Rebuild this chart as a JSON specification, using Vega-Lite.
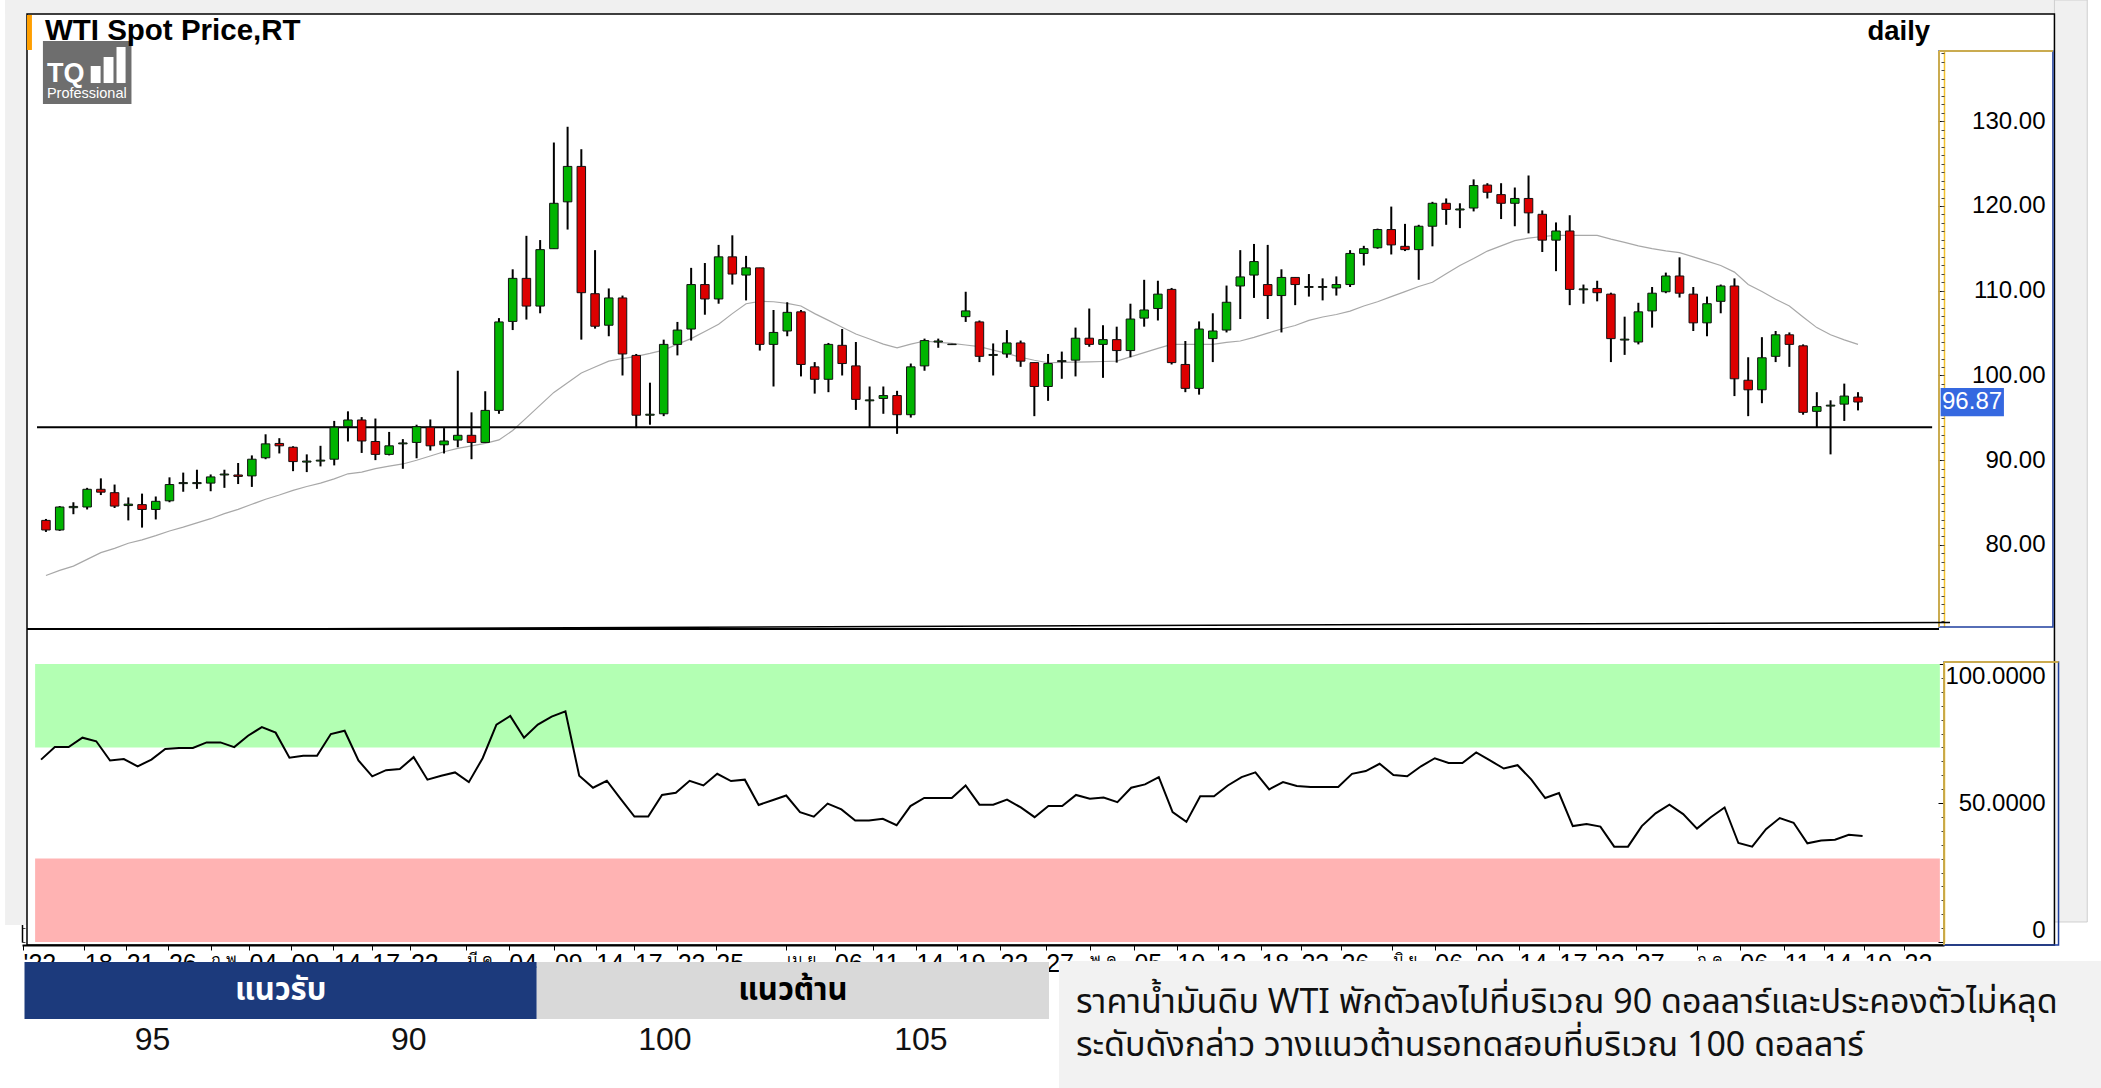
{
"$schema":"https://vega.github.io/schema/vega-lite/v6.json",
"width":2101,"height":1088,"autosize":{"type":"none"},"padding":0,"background":"white",
"config":{"view":{"stroke":null},"axis":{"grid":false}},
"datasets":{
"ohlc":[
{"i":0,"o":82.9,"h":83.07,"l":81.54,"c":81.77,"ma":76.4,"rsi":65.6},
{"i":1,"o":81.77,"h":84.59,"l":81.66,"c":84.48,"ma":77.0,"rsi":70.1},
{"i":2,"o":84.4,"h":85.04,"l":83.63,"c":84.55,"ma":77.5,"rsi":70.1},
{"i":3,"o":84.48,"h":86.74,"l":84.19,"c":86.57,"ma":78.3,"rsi":73.5},
{"i":4,"o":86.57,"h":87.86,"l":85.89,"c":86.23,"ma":79.1,"rsi":72.2},
{"i":5,"o":86.17,"h":87.13,"l":84.36,"c":84.59,"ma":79.6,"rsi":65.3},
{"i":6,"o":84.65,"h":85.61,"l":82.9,"c":84.82,"ma":80.2,"rsi":65.8},
{"i":7,"o":84.76,"h":86.06,"l":82.05,"c":84.19,"ma":80.6,"rsi":63.2},
{"i":8,"o":84.19,"h":85.72,"l":83.01,"c":85.15,"ma":81.1,"rsi":65.6},
{"i":9,"o":85.21,"h":87.98,"l":85.04,"c":87.13,"ma":81.65,"rsi":69.4},
{"i":10,"o":87.24,"h":88.54,"l":86.28,"c":87.36,"ma":82.1,"rsi":69.8},
{"i":11,"o":87.24,"h":88.88,"l":86.62,"c":87.36,"ma":82.6,"rsi":69.8},
{"i":12,"o":87.3,"h":88.32,"l":86.34,"c":88.03,"ma":83.1,"rsi":71.8},
{"i":13,"o":88.26,"h":88.88,"l":86.74,"c":88.37,"ma":83.7,"rsi":71.8},
{"i":14,"o":88.26,"h":89.67,"l":87.19,"c":88.09,"ma":84.2,"rsi":70.1},
{"i":15,"o":88.15,"h":90.57,"l":86.85,"c":90.12,"ma":84.8,"rsi":74.2},
{"i":16,"o":90.29,"h":93.06,"l":90.12,"c":91.93,"ma":85.4,"rsi":77.3},
{"i":17,"o":91.98,"h":92.6,"l":90.8,"c":91.7,"ma":85.9,"rsi":75.3},
{"i":18,"o":91.53,"h":91.65,"l":88.71,"c":89.84,"ma":86.45,"rsi":66.3},
{"i":19,"o":89.78,"h":90.69,"l":88.6,"c":89.9,"ma":86.9,"rsi":67.0},
{"i":20,"o":89.9,"h":91.7,"l":89.27,"c":90.01,"ma":87.3,"rsi":67.0},
{"i":21,"o":90.12,"h":94.64,"l":89.39,"c":93.9,"ma":87.8,"rsi":74.8},
{"i":22,"o":93.96,"h":95.77,"l":92.21,"c":94.75,"ma":88.4,"rsi":76.0},
{"i":23,"o":94.75,"h":95.09,"l":90.86,"c":92.27,"ma":88.6,"rsi":65.3},
{"i":24,"o":92.21,"h":94.92,"l":90.01,"c":90.69,"ma":89.0,"rsi":59.6},
{"i":25,"o":90.69,"h":93.34,"l":90.57,"c":91.7,"ma":89.3,"rsi":61.8},
{"i":26,"o":91.93,"h":92.49,"l":88.99,"c":92.04,"ma":89.56,"rsi":62.2},
{"i":27,"o":92.1,"h":94.19,"l":90.23,"c":93.96,"ma":90.0,"rsi":66.5},
{"i":28,"o":93.9,"h":94.81,"l":91.14,"c":91.7,"ma":90.5,"rsi":58.4},
{"i":29,"o":91.82,"h":93.79,"l":90.8,"c":92.27,"ma":91.0,"rsi":59.8},
{"i":30,"o":92.38,"h":100.56,"l":91.53,"c":92.94,"ma":91.4,"rsi":61.0},
{"i":31,"o":92.94,"h":95.65,"l":90.12,"c":92.1,"ma":91.7,"rsi":57.5},
{"i":32,"o":92.1,"h":98.14,"l":92.1,"c":95.88,"ma":91.98,"rsi":66.1},
{"i":33,"o":95.88,"h":106.77,"l":95.48,"c":106.32,"ma":92.4,"rsi":78.2},
{"i":34,"o":106.38,"h":112.53,"l":105.36,"c":111.46,"ma":93.5,"rsi":81.3},
{"i":35,"o":111.46,"h":116.48,"l":106.6,"c":108.19,"ma":95.0,"rsi":73.5},
{"i":36,"o":108.19,"h":115.98,"l":107.34,"c":114.85,"ma":96.5,"rsi":78.2},
{"i":37,"o":114.96,"h":127.49,"l":114.96,"c":120.32,"ma":98.0,"rsi":81.1},
{"i":38,"o":120.49,"h":129.35,"l":117.22,"c":124.67,"ma":99.15,"rsi":83.0},
{"i":39,"o":124.67,"h":126.7,"l":104.23,"c":109.77,"ma":100.3,"rsi":59.8},
{"i":40,"o":109.65,"h":114.79,"l":105.53,"c":105.81,"ma":101.0,"rsi":55.5},
{"i":41,"o":105.93,"h":110.27,"l":104.63,"c":109.15,"ma":101.7,"rsi":58.0},
{"i":42,"o":109.15,"h":109.43,"l":100.0,"c":102.54,"ma":102.0,"rsi":51.5},
{"i":43,"o":102.37,"h":102.54,"l":93.79,"c":95.31,"ma":102.26,"rsi":45.1},
{"i":44,"o":95.31,"h":99.15,"l":94.19,"c":95.43,"ma":102.6,"rsi":45.1},
{"i":45,"o":95.48,"h":104.23,"l":95.2,"c":103.67,"ma":103.0,"rsi":52.9},
{"i":46,"o":103.67,"h":106.32,"l":102.37,"c":105.36,"ma":103.7,"rsi":53.7},
{"i":47,"o":105.48,"h":112.7,"l":104.12,"c":110.73,"ma":104.35,"rsi":58.0},
{"i":48,"o":110.73,"h":113.27,"l":107.17,"c":109.03,"ma":105.2,"rsi":56.3},
{"i":49,"o":109.03,"h":115.41,"l":108.47,"c":114.0,"ma":106.04,"rsi":60.5},
{"i":50,"o":114.0,"h":116.54,"l":110.73,"c":111.97,"ma":107.3,"rsi":57.9},
{"i":51,"o":111.85,"h":114.11,"l":108.86,"c":112.7,"ma":108.47,"rsi":58.4},
{"i":52,"o":112.7,"h":112.7,"l":102.94,"c":103.67,"ma":108.75,"rsi":49.3},
{"i":53,"o":103.67,"h":107.73,"l":98.7,"c":105.08,"ma":108.7,"rsi":51.0},
{"i":54,"o":105.25,"h":108.64,"l":104.63,"c":107.45,"ma":108.5,"rsi":52.7},
{"i":55,"o":107.51,"h":107.73,"l":99.89,"c":101.3,"ma":108.2,"rsi":46.7},
{"i":56,"o":101.02,"h":101.58,"l":97.86,"c":99.55,"ma":107.3,"rsi":45.1},
{"i":57,"o":99.55,"h":103.84,"l":98.03,"c":103.67,"ma":106.5,"rsi":49.8},
{"i":58,"o":103.56,"h":105.48,"l":100.0,"c":101.41,"ma":105.7,"rsi":47.7},
{"i":59,"o":101.13,"h":103.95,"l":95.94,"c":97.18,"ma":104.9,"rsi":43.7},
{"i":60,"o":97.01,"h":98.7,"l":93.9,"c":97.12,"ma":104.3,"rsi":43.7},
{"i":61,"o":97.29,"h":98.7,"l":95.48,"c":97.63,"ma":103.7,"rsi":44.3},
{"i":62,"o":97.63,"h":98.19,"l":93.11,"c":95.37,"ma":103.27,"rsi":42.0},
{"i":63,"o":95.37,"h":101.41,"l":95.03,"c":101.02,"ma":103.7,"rsi":48.9},
{"i":64,"o":101.13,"h":104.35,"l":100.56,"c":104.12,"ma":104.07,"rsi":51.8},
{"i":65,"o":103.95,"h":104.35,"l":103.27,"c":104.07,"ma":103.9,"rsi":51.8},
{"i":66,"o":103.64,"h":103.73,"l":103.61,"c":103.7,"ma":103.78,"rsi":51.8},
{"i":67,"o":106.94,"h":109.88,"l":106.32,"c":107.62,"ma":103.6,"rsi":56.3},
{"i":68,"o":106.32,"h":106.49,"l":101.58,"c":102.26,"ma":103.4,"rsi":49.4},
{"i":69,"o":102.37,"h":103.78,"l":100.0,"c":102.48,"ma":103.0,"rsi":49.4},
{"i":70,"o":102.54,"h":105.36,"l":102.09,"c":103.84,"ma":102.6,"rsi":51.2},
{"i":71,"o":103.84,"h":104.12,"l":101.02,"c":101.69,"ma":102.15,"rsi":48.4},
{"i":72,"o":101.52,"h":101.52,"l":95.2,"c":98.7,"ma":101.8,"rsi":44.9},
{"i":73,"o":98.7,"h":102.54,"l":97.01,"c":101.41,"ma":101.5,"rsi":48.9},
{"i":74,"o":101.64,"h":102.82,"l":99.61,"c":101.75,"ma":101.55,"rsi":48.9},
{"i":75,"o":101.81,"h":105.65,"l":99.89,"c":104.4,"ma":101.58,"rsi":52.9},
{"i":76,"o":104.4,"h":107.9,"l":103.39,"c":103.67,"ma":101.6,"rsi":51.5},
{"i":77,"o":103.67,"h":105.93,"l":99.72,"c":104.23,"ma":101.65,"rsi":52.0},
{"i":78,"o":104.23,"h":105.76,"l":101.52,"c":102.94,"ma":101.7,"rsi":50.3},
{"i":79,"o":102.94,"h":108.47,"l":102.15,"c":106.66,"ma":102.2,"rsi":55.5},
{"i":80,"o":106.77,"h":111.29,"l":105.76,"c":107.73,"ma":102.7,"rsi":56.7},
{"i":81,"o":107.9,"h":111.18,"l":106.49,"c":109.6,"ma":103.2,"rsi":59.3},
{"i":82,"o":110.16,"h":110.33,"l":101.3,"c":101.52,"ma":103.67,"rsi":46.7},
{"i":83,"o":101.3,"h":104.07,"l":98.03,"c":98.48,"ma":103.67,"rsi":43.2},
{"i":84,"o":98.48,"h":106.38,"l":97.74,"c":105.48,"ma":103.67,"rsi":52.4},
{"i":85,"o":104.35,"h":107.34,"l":101.58,"c":105.25,"ma":103.67,"rsi":52.4},
{"i":86,"o":105.36,"h":110.61,"l":105.08,"c":108.64,"ma":103.9,"rsi":56.3},
{"i":87,"o":110.56,"h":114.79,"l":106.66,"c":111.63,"ma":104.07,"rsi":59.3},
{"i":88,"o":111.85,"h":115.52,"l":109.15,"c":113.44,"ma":104.5,"rsi":61.0},
{"i":89,"o":110.73,"h":115.41,"l":106.66,"c":109.43,"ma":105.0,"rsi":54.9},
{"i":90,"o":109.43,"h":112.53,"l":105.08,"c":111.57,"ma":105.48,"rsi":57.5},
{"i":91,"o":111.57,"h":111.57,"l":108.3,"c":110.73,"ma":105.9,"rsi":56.1},
{"i":92,"o":110.39,"h":111.97,"l":109.31,"c":110.5,"ma":106.5,"rsi":55.8},
{"i":93,"o":110.39,"h":111.46,"l":108.86,"c":110.5,"ma":106.9,"rsi":55.8},
{"i":94,"o":110.33,"h":111.69,"l":109.43,"c":110.73,"ma":107.2,"rsi":55.8},
{"i":95,"o":110.73,"h":114.79,"l":110.44,"c":114.4,"ma":107.6,"rsi":60.5},
{"i":96,"o":114.4,"h":115.3,"l":112.98,"c":114.96,"ma":108.2,"rsi":61.5},
{"i":97,"o":115.07,"h":117.33,"l":114.96,"c":117.22,"ma":108.7,"rsi":64.1},
{"i":98,"o":117.22,"h":119.93,"l":114.28,"c":115.41,"ma":109.3,"rsi":60.1},
{"i":99,"o":115.24,"h":117.89,"l":114.68,"c":114.85,"ma":109.9,"rsi":59.6},
{"i":100,"o":114.85,"h":117.78,"l":111.29,"c":117.61,"ma":110.5,"rsi":63.2},
{"i":101,"o":117.61,"h":120.49,"l":115.24,"c":120.32,"ma":111.0,"rsi":66.1},
{"i":102,"o":120.32,"h":120.89,"l":117.78,"c":119.59,"ma":112.0,"rsi":64.4},
{"i":103,"o":119.53,"h":120.32,"l":117.39,"c":119.65,"ma":112.98,"rsi":64.4},
{"i":104,"o":119.76,"h":123.14,"l":119.36,"c":122.41,"ma":113.8,"rsi":68.2},
{"i":105,"o":122.47,"h":122.69,"l":120.89,"c":121.62,"ma":114.68,"rsi":65.3},
{"i":106,"o":121.34,"h":122.69,"l":118.46,"c":120.32,"ma":115.3,"rsi":62.4},
{"i":107,"o":120.32,"h":122.18,"l":117.61,"c":120.89,"ma":115.92,"rsi":63.6},
{"i":108,"o":120.89,"h":123.6,"l":116.77,"c":119.19,"ma":116.2,"rsi":58.4},
{"i":109,"o":119.02,"h":119.48,"l":114.57,"c":115.97,"ma":116.4,"rsi":51.8},
{"i":110,"o":115.97,"h":118.06,"l":112.31,"c":117.05,"ma":116.54,"rsi":53.6},
{"i":111,"o":117.05,"h":118.91,"l":108.3,"c":110.16,"ma":116.54,"rsi":41.7},
{"i":112,"o":110.11,"h":110.73,"l":108.47,"c":110.22,"ma":116.54,"rsi":42.4},
{"i":113,"o":110.27,"h":111.18,"l":108.75,"c":109.77,"ma":116.54,"rsi":41.5},
{"i":114,"o":109.6,"h":109.77,"l":101.58,"c":104.35,"ma":116.1,"rsi":34.3},
{"i":115,"o":104.18,"h":106.94,"l":102.43,"c":104.29,"ma":115.7,"rsi":34.3},
{"i":116,"o":103.95,"h":108.58,"l":103.67,"c":107.51,"ma":115.3,"rsi":41.7},
{"i":117,"o":107.62,"h":110.44,"l":105.65,"c":109.71,"ma":114.96,"rsi":46.3},
{"i":118,"o":109.88,"h":112.14,"l":109.71,"c":111.74,"ma":114.7,"rsi":49.4},
{"i":119,"o":111.74,"h":113.94,"l":109.2,"c":109.71,"ma":114.5,"rsi":46.0},
{"i":120,"o":109.6,"h":110.44,"l":105.25,"c":106.21,"ma":114.0,"rsi":40.8},
{"i":121,"o":106.21,"h":109.31,"l":104.63,"c":108.47,"ma":113.5,"rsi":44.9},
{"i":122,"o":108.75,"h":110.73,"l":107.34,"c":110.56,"ma":112.98,"rsi":48.4},
{"i":123,"o":110.56,"h":111.46,"l":97.57,"c":99.61,"ma":112.2,"rsi":35.6},
{"i":124,"o":99.44,"h":102.15,"l":95.2,"c":98.31,"ma":110.73,"rsi":34.3},
{"i":125,"o":98.31,"h":104.52,"l":96.73,"c":102.09,"ma":109.9,"rsi":40.6},
{"i":126,"o":102.26,"h":105.25,"l":101.58,"c":104.8,"ma":109.0,"rsi":44.6},
{"i":127,"o":104.8,"h":105.08,"l":101.02,"c":103.67,"ma":108.2,"rsi":42.9},
{"i":128,"o":103.5,"h":103.67,"l":95.37,"c":95.65,"ma":106.9,"rsi":35.5},
{"i":129,"o":95.77,"h":98.03,"l":93.9,"c":96.33,"ma":105.65,"rsi":36.5},
{"i":130,"o":96.39,"h":97.07,"l":90.69,"c":96.5,"ma":104.8,"rsi":36.8},
{"i":131,"o":96.62,"h":99.04,"l":94.64,"c":97.57,"ma":104.2,"rsi":38.6},
{"i":132,"o":97.45,"h":98.03,"l":95.88,"c":96.87,"ma":103.67,"rsi":38.1}
],
"thead":[{"a":0,"b":2,"m":1,"t":"แนวรับ","k":"sup"},{"a":2,"b":4,"m":3,"t":"แนวต้าน","k":"res"}],
"tval":[{"m":0.5,"t":"95"},{"m":1.5,"t":"90"},{"m":2.5,"t":"100"},{"m":3.5,"t":"105"}],
"note":[{"ln":"l1","t":"ราคาน้ำมันดิบ   WTI พักตัวลงไปที่บริเวณ 90 ดอลลาร์และประคองตัวไม่หลุด"},{"ln":"l2","t":"ระดับดังกล่าว วางแนวต้านรอทดสอบที่บริเวณ 100 ดอลลาร์"}]
},
"resolve":{"scale":{"x":"independent","y":"independent"},"axis":{"x":"independent","y":"independent"}},
"layer":[
{"layer":[
{"data":{"values":[{}]},"mark":{"type":"rect","fill":"#f0f0f0"},"encoding":{"x":{"datum":-2.974,"scale":{"domain":[-1.38,137.9],"range":[22,1944],"nice":false,"zero":false},"axis":null},"x2":{"datum":148.7},"y":{"datum":142.65,"scale":{"domain":[70.32,138.29],"range":[627,51],"nice":false,"zero":false},"axis":null},"y2":{"datum":144.31}}},
{"data":{"values":[{}]},"mark":{"type":"rect","fill":"#f0f0f0"},"encoding":{"x":{"datum":-2.974,"scale":{"domain":[-1.38,137.9],"range":[22,1944],"nice":false,"zero":false},"axis":null},"x2":{"datum":-1.38},"y":{"datum":35.16,"scale":{"domain":[70.32,138.29],"range":[627,51],"nice":false,"zero":false},"axis":null},"y2":{"datum":144.31}}},
{"data":{"values":[{}]},"mark":{"type":"rect","fill":"#f0f0f0","stroke":"#cfcfcf","strokeWidth":1},"encoding":{"x":{"datum":146.31,"scale":{"domain":[-1.38,137.9],"range":[22,1944],"nice":false,"zero":false},"axis":null},"x2":{"datum":148.7},"y":{"datum":35.51,"scale":{"domain":[70.32,138.29],"range":[627,51],"nice":false,"zero":false},"axis":null},"y2":{"datum":144.31}}},
{"data":{"values":[{}]},"mark":{"type":"rect","fillOpacity":0,"stroke":"black","strokeWidth":1.5},"encoding":{"x":{"datum":-1.38,"scale":{"domain":[-1.38,137.9],"range":[22,1944],"nice":false,"zero":false},"axis":null},"x2":{"datum":146.31},"y":{"datum":32.8,"scale":{"domain":[70.32,138.29],"range":[627,51],"nice":false,"zero":false},"axis":null},"y2":{"datum":142.65}}},
{"data":{"values":[{}]},"mark":{"type":"rect","fill":"#ff9f00"},"encoding":{"x":{"datum":-1.38,"scale":{"domain":[-1.38,137.9],"range":[22,1944],"nice":false,"zero":false},"axis":null},"x2":{"datum":-1.02},"y":{"datum":138.41,"scale":{"domain":[70.32,138.29],"range":[627,51],"nice":false,"zero":false},"axis":null},"y2":{"datum":142.54}}},
{"data":{"values":[{}]},"mark":{"type":"rect","fill":"#6e6e6e"},"encoding":{"x":{"datum":-0.22,"scale":{"domain":[-1.38,137.9],"range":[22,1944],"nice":false,"zero":false},"axis":null},"x2":{"datum":6.23},"y":{"datum":132.04,"scale":{"domain":[70.32,138.29],"range":[627,51],"nice":false,"zero":false},"axis":null},"y2":{"datum":139.47}}},
{"data":{"values":[{}]},"mark":{"type":"rect","fill":"white"},"encoding":{"x":{"datum":3.26,"scale":{"domain":[-1.38,137.9],"range":[22,1944],"nice":false,"zero":false},"axis":null},"x2":{"datum":3.98},"y":{"datum":134.51,"scale":{"domain":[70.32,138.29],"range":[627,51],"nice":false,"zero":false},"axis":null},"y2":{"datum":136.52}}},
{"data":{"values":[{}]},"mark":{"type":"rect","fill":"white"},"encoding":{"x":{"datum":4.2,"scale":{"domain":[-1.38,137.9],"range":[22,1944],"nice":false,"zero":false},"axis":null},"x2":{"datum":4.92},"y":{"datum":134.51,"scale":{"domain":[70.32,138.29],"range":[627,51],"nice":false,"zero":false},"axis":null},"y2":{"datum":137.58}}},
{"data":{"values":[{}]},"mark":{"type":"rect","fill":"white"},"encoding":{"x":{"datum":5.14,"scale":{"domain":[-1.38,137.9],"range":[22,1944],"nice":false,"zero":false},"axis":null},"x2":{"datum":5.8},"y":{"datum":134.51,"scale":{"domain":[70.32,138.29],"range":[627,51],"nice":false,"zero":false},"axis":null},"y2":{"datum":138.76}}},
{"data":{"values":[{}]},"mark":{"type":"text","text":"TQ","align":"left","baseline":"middle","fontSize":27,"fontWeight":"bold","font":"Liberation Sans","color":"white"},"encoding":{"x":{"datum":0.07,"scale":{"domain":[-1.38,137.9],"range":[22,1944],"nice":false,"zero":false},"axis":null},"y":{"datum":135.58,"scale":{"domain":[70.32,138.29],"range":[627,51],"nice":false,"zero":false},"axis":null}}},
{"data":{"values":[{}]},"mark":{"type":"text","text":"Professional","align":"left","baseline":"middle","fontSize":14.5,"font":"Liberation Sans","color":"white"},"encoding":{"x":{"datum":0.07,"scale":{"domain":[-1.38,137.9],"range":[22,1944],"nice":false,"zero":false},"axis":null},"y":{"datum":133.22,"scale":{"domain":[70.32,138.29],"range":[627,51],"nice":false,"zero":false},"axis":null}}},
{"data":{"values":[{}]},"mark":{"type":"text","text":"WTI Spot Price,RT","align":"left","baseline":"alphabetic","fontSize":29.5,"fontWeight":"bold","font":"Liberation Sans","color":"black"},"encoding":{"x":{"datum":-0.076,"scale":{"domain":[-1.38,137.9],"range":[22,1944],"nice":false,"zero":false},"axis":null},"y":{"datum":139.59,"scale":{"domain":[70.32,138.29],"range":[627,51],"nice":false,"zero":false},"axis":null}}},
{"data":{"values":[{}]},"mark":{"type":"text","text":"daily","align":"right","baseline":"alphabetic","fontSize":27.5,"fontWeight":"bold","font":"Liberation Sans","color":"black"},"encoding":{"x":{"datum":137.25,"scale":{"domain":[-1.38,137.9],"range":[22,1944],"nice":false,"zero":false},"axis":null},"y":{"datum":139.59,"scale":{"domain":[70.32,138.29],"range":[627,51],"nice":false,"zero":false},"axis":null}}},
{"data":{"values":[{}]},"mark":{"type":"rect","fillOpacity":0,"stroke":"#1f3f9f","strokeWidth":1.5},"encoding":{"x":{"datum":137.9,"scale":{"domain":[-1.38,137.9],"range":[22,1944],"nice":false,"zero":false},"axis":null},"x2":{"datum":146.2},"y":{"datum":70.32,"scale":{"domain":[70.32,138.29],"range":[627,51],"nice":false,"zero":false},"axis":null},"y2":{"datum":138.29}}},
{"data":{"values":[{}]},"mark":{"type":"rule","color":"#f2c12e","strokeWidth":1.5},"encoding":{"x":{"datum":137.9,"scale":{"domain":[-1.38,137.9],"range":[22,1944],"nice":false,"zero":false},"axis":null},"x2":{"datum":146.2},"y":{"datum":138.29,"scale":{"domain":[70.32,138.29],"range":[627,51],"nice":false,"zero":false},"axis":null}}},
{"data":{"values":[{}]},"mark":{"type":"rule","color":"#f2c12e","strokeWidth":1.5},"encoding":{"x":{"datum":137.9,"scale":{"domain":[-1.38,137.9],"range":[22,1944],"nice":false,"zero":false},"axis":null},"y":{"datum":70.32,"scale":{"domain":[70.32,138.29],"range":[627,51],"nice":false,"zero":false},"axis":null},"y2":{"datum":138.29}}},
{"data":{"name":"ohlc"},"mark":{"type":"line","color":"#a8a8a8","strokeWidth":1.2},"encoding":{"x":{"field":"i","type":"quantitative","scale":{"domain":[-1.38,137.9],"range":[22,1944],"nice":false,"zero":false},"axis":null},"y":{"field":"ma","type":"quantitative","scale":{"domain":[70.32,138.29],"range":[627,51],"nice":false,"zero":false},"axis":null}}},
{"data":{"values":[{}]},"mark":{"type":"rule","color":"black","strokeWidth":2},"encoding":{"x":{"datum":-1.38,"scale":{"domain":[-1.38,137.9],"range":[22,1944],"nice":false,"zero":false},"axis":null},"x2":{"datum":137.9},"y":{"datum":70.08,"scale":{"domain":[70.32,138.29],"range":[627,51],"nice":false,"zero":false},"axis":null}}},
{"data":{"values":[{}]},"mark":{"type":"rule","color":"black","strokeWidth":1.5},"encoding":{"x":{"datum":15.4,"scale":{"domain":[-1.38,137.9],"range":[22,1944],"nice":false,"zero":false},"axis":null},"x2":{"datum":138.7},"y":{"datum":70.08,"scale":{"domain":[70.32,138.29],"range":[627,51],"nice":false,"zero":false},"axis":null},"y2":{"datum":70.86}}},
{"data":{"values":[{}]},"mark":{"type":"rule","color":"black","strokeWidth":2},"encoding":{"x":{"datum":-0.65,"scale":{"domain":[-1.38,137.9],"range":[22,1944],"nice":false,"zero":false},"axis":null},"x2":{"datum":137.4},"y":{"datum":93.9,"scale":{"domain":[70.32,138.29],"range":[627,51],"nice":false,"zero":false},"axis":null}}},
{"data":{"name":"ohlc"},"mark":{"type":"rule","color":"black","strokeWidth":2},"encoding":{"x":{"field":"i","type":"quantitative","scale":{"domain":[-1.38,137.9],"range":[22,1944],"nice":false,"zero":false},"axis":null},"y":{"field":"l","type":"quantitative","scale":{"domain":[70.32,138.29],"range":[627,51],"nice":false,"zero":false},"axis":null},"y2":{"field":"h"}}},
{"data":{"name":"ohlc"},"mark":{"type":"bar","width":8.5,"stroke":"#111111","strokeWidth":1},"encoding":{"x":{"field":"i","type":"quantitative","scale":{"domain":[-1.38,137.9],"range":[22,1944],"nice":false,"zero":false},"axis":null},"y":{"field":"o","type":"quantitative","scale":{"domain":[70.32,138.29],"range":[627,51],"nice":false,"zero":false},"axis":null},"y2":{"field":"c"},"color":{"condition":{"test":"datum.c >= datum.o","value":"#00b400"},"value":"#dd0000"}}},
{"data":{"values":[{}]},"mark":{"type":"rect","fill":"#3568e0"},"encoding":{"x":{"datum":138.02,"scale":{"domain":[-1.38,137.9],"range":[22,1944],"nice":false,"zero":false},"axis":null},"x2":{"datum":142.63},"y":{"datum":95.2,"scale":{"domain":[70.32,138.29],"range":[627,51],"nice":false,"zero":false},"axis":null},"y2":{"datum":98.52}}},
{"data":{"name":"ohlc"},"transform":[{"filter":"datum.i == 132"}],"mark":{"type":"text","align":"left","baseline":"middle","fontSize":24,"font":"Liberation Sans","color":"white"},"encoding":{"x":{"datum":138.12,"scale":{"domain":[-1.38,137.9],"range":[22,1944],"nice":false,"zero":false},"axis":null},"y":{"field":"c","type":"quantitative","scale":{"domain":[70.32,138.29],"range":[627,51],"nice":false,"zero":false},"axis":null},"text":{"field":"c","type":"quantitative","format":".2f"}}}
]},
{"layer":[
{"data":{"values":[{}]},"mark":{"type":"rect","fillOpacity":0,"stroke":"#1f3f9f","strokeWidth":1.5},"encoding":{"x":{"datum":137.9,"scale":{"domain":[-1.38,137.9],"range":[22,1944],"nice":false,"zero":false},"axis":null},"x2":{"datum":146.2},"y":{"datum":-1.08,"scale":{"domain":[0,100],"range":[942,664],"nice":false,"zero":false},"axis":null},"y2":{"datum":100.72}}},
{"data":{"values":[{}]},"mark":{"type":"rule","color":"#f2c12e","strokeWidth":1.5},"encoding":{"x":{"datum":137.9,"scale":{"domain":[-1.38,137.9],"range":[22,1944],"nice":false,"zero":false},"axis":null},"x2":{"datum":146.2},"y":{"datum":100.72,"scale":{"domain":[0,100],"range":[942,664],"nice":false,"zero":false},"axis":null}}},
{"data":{"values":[{}]},"mark":{"type":"rule","color":"#f2c12e","strokeWidth":1.5},"encoding":{"x":{"datum":137.9,"scale":{"domain":[-1.38,137.9],"range":[22,1944],"nice":false,"zero":false},"axis":null},"y":{"datum":-1.08,"scale":{"domain":[0,100],"range":[942,664],"nice":false,"zero":false},"axis":null},"y2":{"datum":100.72}}},
{"data":{"values":[{}]},"mark":{"type":"rect","fill":"#b3ffb3"},"encoding":{"x":{"datum":-0.43,"scale":{"domain":[-1.38,137.9],"range":[22,1944],"nice":false,"zero":false},"axis":null},"x2":{"datum":137.6},"y":{"datum":70,"scale":{"domain":[0,100],"range":[942,664],"nice":false,"zero":false},"axis":null},"y2":{"datum":100}}},
{"data":{"values":[{}]},"mark":{"type":"rect","fill":"#ffb3b3"},"encoding":{"x":{"datum":-0.43,"scale":{"domain":[-1.38,137.9],"range":[22,1944],"nice":false,"zero":false},"axis":null},"x2":{"datum":137.6},"y":{"datum":0,"scale":{"domain":[0,100],"range":[942,664],"nice":false,"zero":false},"axis":null},"y2":{"datum":30}}},
{"data":{"name":"ohlc"},"mark":{"type":"line","color":"black","strokeWidth":2},"encoding":{"x":{"field":"i","type":"quantitative","scale":{"domain":[-1.38,137.9],"range":[22,1944],"nice":false,"zero":false},"axis":null},"y":{"field":"rsi","type":"quantitative","scale":{"domain":[0,100],"range":[942,664],"nice":false,"zero":false},"axis":null}}}
]},
{"data":{"values":[{}]},"mark":{"type":"point","opacity":0},"encoding":{"y":{"datum":100,"scale":{"domain":[70.32,138.29],"range":[627,51],"nice":false,"zero":false},"axis":{"orient":"right","offset":-157,"values":[80,90,100,110,120,130],"format":".2f","labelAlign":"right","labelBaseline":"middle","labelPadding":107,"labelFontSize":24,"labelFont":"Liberation Sans","labelColor":"black","labelOverlap":false,"labelFlush":false,"tickSize":-6,"tickColor":"black","domainColor":"#f2c12e","domainWidth":1.5,"grid":false,"title":null}}}},
{"data":{"values":[{}]},"mark":{"type":"point","opacity":0},"encoding":{"y":{"datum":100,"scale":{"domain":[70.32,138.29],"range":[627,51],"nice":false,"zero":false},"axis":{"orient":"right","offset":-157,"values":[71,72,73,74,75,76,77,78,79,80,81,82,83,84,85,86,87,88,89,90,91,92,93,94,95,96,97,98,99,100,101,102,103,104,105,106,107,108,109,110,111,112,113,114,115,116,117,118,119,120,121,122,123,124,125,126,127,128,129,130,131,132,133,134,135,136,137,138],"labels":false,"domain":false,"tickSize":-3,"tickColor":"#444444","grid":false,"title":null}}}},
{"data":{"values":[{}]},"mark":{"type":"point","opacity":0},"encoding":{"y":{"datum":100,"scale":{"domain":[70.32,138.29],"range":[627,51],"nice":false,"zero":false},"axis":{"orient":"left","offset":-22,"values":[71,72,73,74,75,76,77,78,79,80,81,82,83,84,85,86,87,88,89,90,91,92,93,94,95,96,97,98,99,100,101,102,103,104,105,106,107,108,109,110,111,112,113,114,115,116,117,118,119,120,121,122,123,124,125,126,127,128,129,130,131,132,133,134,135,136,137,138],"labels":false,"domainColor":"black","domainWidth":1.5,"tickSize":-3,"tickColor":"#444444","grid":false,"title":null}}}},
{"data":{"values":[{}]},"mark":{"type":"point","opacity":0},"encoding":{"y":{"datum":50,"scale":{"domain":[0,100],"range":[942,664],"nice":false,"zero":false},"axis":{"orient":"right","offset":-157,"values":[0,50,100],"labelExpr":"datum.value == 0 ? '0' : format(datum.value, '.4f')","labelFlush":true,"labelAlign":"right","labelPadding":107,"labelFontSize":24,"labelFont":"Liberation Sans","labelColor":"black","labelOverlap":false,"tickSize":-6,"tickColor":"black","domainColor":"#f2c12e","domainWidth":1.5,"grid":false,"title":null}}}},
{"data":{"values":[{}]},"mark":{"type":"point","opacity":0},"encoding":{"y":{"datum":50,"scale":{"domain":[0,100],"range":[942,664],"nice":false,"zero":false},"axis":{"orient":"right","offset":-157,"values":[5,10,15,20,25,30,35,40,45,55,60,65,70,75,80,85,90,95],"labels":false,"domain":false,"tickSize":-3,"tickColor":"#444444","grid":false,"title":null}}}},
{"data":{"values":[{}]},"mark":{"type":"point","opacity":0},"encoding":{"y":{"datum":50,"scale":{"domain":[0,100],"range":[942,664],"nice":false,"zero":false},"axis":{"orient":"left","offset":-22,"values":[0,5,10,15,20,25,30,35,40,45,50,55,60,65,70,75,80,85,90,95,100],"labels":false,"domainColor":"black","domainWidth":1.5,"tickSize":-3,"tickColor":"#444444","grid":false,"title":null}}}},
{"data":{"values":[{}]},"mark":{"type":"point","opacity":0},"encoding":{"x":{"datum":0,"scale":{"domain":[-1.38,137.9],"range":[22,1944],"nice":false,"zero":false},"axis":{"orient":"bottom","offset":-143,"values":[-1.3,3.13,6.18,9.23,12.3,15.07,18.12,21.17,23.97,26.77,30.8,33.9,37.2,40.2,43,46.1,48.9,54,57.5,60.3,63.4,66.4,69.5,72.8,76,79.2,82.3,85.3,88.4,91.3,94.2,97.9,101,104,107.1,110,112.7,115.6,120,123.1,126.3,129.2,132.1,135],"labelExpr":"[\"'22\",\"18\",\"21\",\"26\",\"ก.พ.\",\"04\",\"09\",\"14\",\"17\",\"22\",\"มี.ค.\",\"04\",\"09\",\"14\",\"17\",\"22\",\"25\",\"เม.ย.\",\"06\",\"11\",\"14\",\"19\",\"22\",\"27\",\"พ.ค.\",\"05\",\"10\",\"13\",\"18\",\"23\",\"26\",\"มิ.ย.\",\"06\",\"09\",\"14\",\"17\",\"22\",\"27\",\"ก.ค.\",\"06\",\"11\",\"14\",\"19\",\"22\"][indexof([-1.3,3.13,6.18,9.23,12.3,15.07,18.12,21.17,23.97,26.77,30.8,33.9,37.2,40.2,43,46.1,48.9,54,57.5,60.3,63.4,66.4,69.5,72.8,76,79.2,82.3,85.3,88.4,91.3,94.2,97.9,101,104,107.1,110,112.7,115.6,120,123.1,126.3,129.2,132.1,135], datum.value)]","labelAlign":"left","labelBaseline":"top","labelPadding":1,"labelFontSize":{"condition":{"test":"indexof([12.3,30.8,54,76,97.9,120], datum.value) >= 0","value":16},"value":25},"labelFont":"Liberation Sans","labelColor":"black","labelOverlap":false,"labelFlush":false,"labelBound":false,"tickSize":5,"tickColor":"black","domainColor":"black","domainWidth":2,"grid":false,"title":null}}}},
{"layer":[
{"data":{"name":"thead"},"mark":{"type":"rect"},"encoding":{"x":{"field":"a","type":"quantitative","scale":{"domain":[0,4],"range":[24.5,1049],"nice":false,"zero":false},"axis":null},"x2":{"field":"b"},"y":{"datum":"head","type":"nominal","scale":{"type":"band","domain":["head","val"],"range":[962,1076],"paddingInner":0,"paddingOuter":0},"axis":null},"color":{"condition":{"test":"datum.k == 'sup'","value":"#1c3a7c"},"value":"#d9d9d9"}}},
{"data":{"name":"thead"},"mark":{"type":"text","fontSize":31,"fontWeight":"bold","font":"Noto Sans Thai, Tahoma, sans-serif","baseline":"middle","align":"center"},"encoding":{"x":{"field":"m","type":"quantitative","scale":{"domain":[0,4],"range":[24.5,1049],"nice":false,"zero":false},"axis":null},"y":{"datum":"head","type":"nominal","scale":{"type":"band","domain":["head","val"],"range":[962,1076],"paddingInner":0,"paddingOuter":0},"axis":null},"text":{"field":"t"},"color":{"condition":{"test":"datum.k == 'sup'","value":"white"},"value":"black"}}},
{"data":{"name":"tval"},"mark":{"type":"text","fontSize":32,"font":"Liberation Sans Narrow, Liberation Sans, sans-serif","baseline":"middle","align":"center","dy":-8,"color":"#111111"},"encoding":{"x":{"field":"m","type":"quantitative","scale":{"domain":[0,4],"range":[24.5,1049],"nice":false,"zero":false},"axis":null},"y":{"datum":"val","type":"nominal","scale":{"type":"band","domain":["head","val"],"range":[962,1076],"paddingInner":0,"paddingOuter":0},"axis":null},"text":{"field":"t"}}}
]},
{"layer":[
{"data":{"values":[{}]},"mark":{"type":"rect","fill":"#f2f2f2"},"encoding":{"x":{"datum":"L","type":"nominal","scale":{"type":"point","domain":["L","R"],"range":[1059,2101],"padding":0},"axis":null},"x2":{"datum":"R"},"y":{"datum":"top","type":"nominal","scale":{"type":"point","domain":["top","l1","l2","bottom"],"range":[961,1088],"padding":0},"axis":null},"y2":{"datum":"bottom"}}},
{"data":{"name":"note"},"mark":{"type":"text","fontSize":34,"font":"Noto Sans Thai, Tahoma, sans-serif","baseline":"middle","align":"left","dx":17,"color":"#111111"},"encoding":{"x":{"datum":"L","type":"nominal","scale":{"type":"point","domain":["L","R"],"range":[1059,2101],"padding":0},"axis":null},"y":{"field":"ln","type":"nominal","scale":{"type":"point","domain":["top","l1","l2","bottom"],"range":[963,1091],"padding":0},"axis":null},"text":{"field":"t"}}}
]}
]
}
